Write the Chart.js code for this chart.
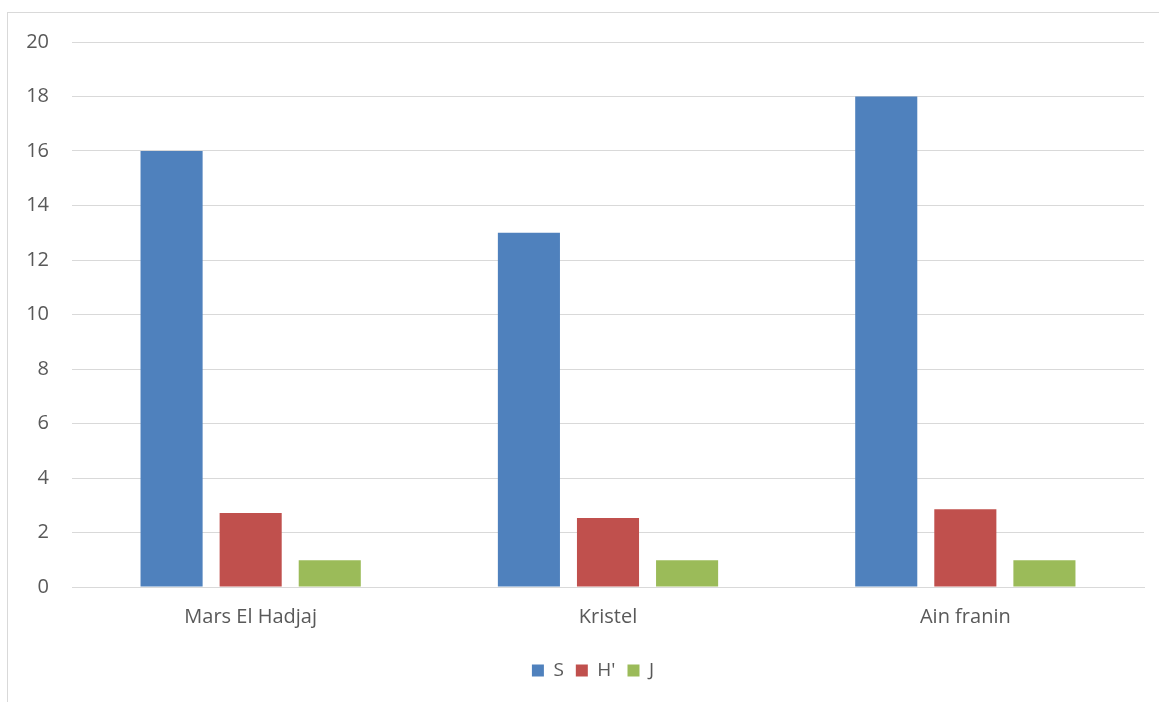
<!DOCTYPE html>
<html>
<head>
<meta charset="utf-8">
<script src="https://cdn.jsdelivr.net/npm/chart.js@4/dist/chart.umd.min.js"></script>
<style>
html,body{margin:0;padding:0;background:#fff;overflow:hidden;}
#frame{position:absolute;left:7px;top:12px;width:1200px;height:800px;border:1px solid #d9d9d9;box-sizing:border-box;}
#wrap{position:absolute;left:0;top:0;width:1159px;height:702px;}
</style>
</head>
<body>
<div id="frame"></div>
<div id="wrap"><canvas id="c" width="1159" height="702"></canvas></div>
<script>
const categories = ["Mars El Hadjaj", "Kristel", "Ain franin"];
const seriesS = [16, 13, 18];
const seriesH = [2.72, 2.53, 2.85];
const seriesJ = [0.98, 0.98, 0.98];
const yTicks = [0, 2, 4, 6, 8, 10, 12, 14, 16, 18, 20];

const textColor = "#595959";
const fontFamily = "'Open Sans', Lato, sans-serif";

const shiftLegend = {
  id: "shiftLegend",
  afterLayout(chart) {
    if (chart.legend) { chart.legend.left += 21; chart.legend.right += 21; }
  }
};

new Chart(document.getElementById("c"), {
  type: "bar",
  data: {
    labels: categories,
    datasets: [
      { label: "S", data: seriesS, backgroundColor: "#4F81BD" },
      { label: "H'", data: seriesH, backgroundColor: "#C0504D" },
      { label: "J", data: seriesJ, backgroundColor: "#9BBB59" }
    ]
  },
  plugins: [shiftLegend],
  options: {
    responsive: false,
    animation: false,
    devicePixelRatio: 1,
    layout: { padding: { left: 0, right: 15, top: 42, bottom: 12 } },
    datasets: { bar: { categoryPercentage: 0.664, barPercentage: 0.785 } },
    plugins: {
      tooltip: { enabled: false },
      legend: {
        position: "bottom",
        labels: {
          color: textColor,
          font: { family: fontFamily, size: 19 },
          boxWidth: 12, boxHeight: 12, padding: 12
        }
      }
    },
    scales: {
      x: {
        grid: { display: false, drawTicks: false },
        border: { display: true, color: "#d9d9d9", width: 1 },
        ticks: { color: textColor, font: { family: fontFamily, size: 20 }, padding: 18 },
        afterFit: (s) => { s.height = 62; }
      },
      y: {
        min: 0, max: 20,
        afterBuildTicks: (s) => { s.ticks = yTicks.map(v => ({ value: v })); },
        grid: { color: "#d9d9d9", drawTicks: false, lineWidth: 1 },
        border: { display: false },
        ticks: { color: textColor, font: { family: fontFamily, size: 20 }, padding: 23 },
        afterFit: (s) => { s.width = 72; }
      }
    }
  }
});
</script>
</body>
</html>
